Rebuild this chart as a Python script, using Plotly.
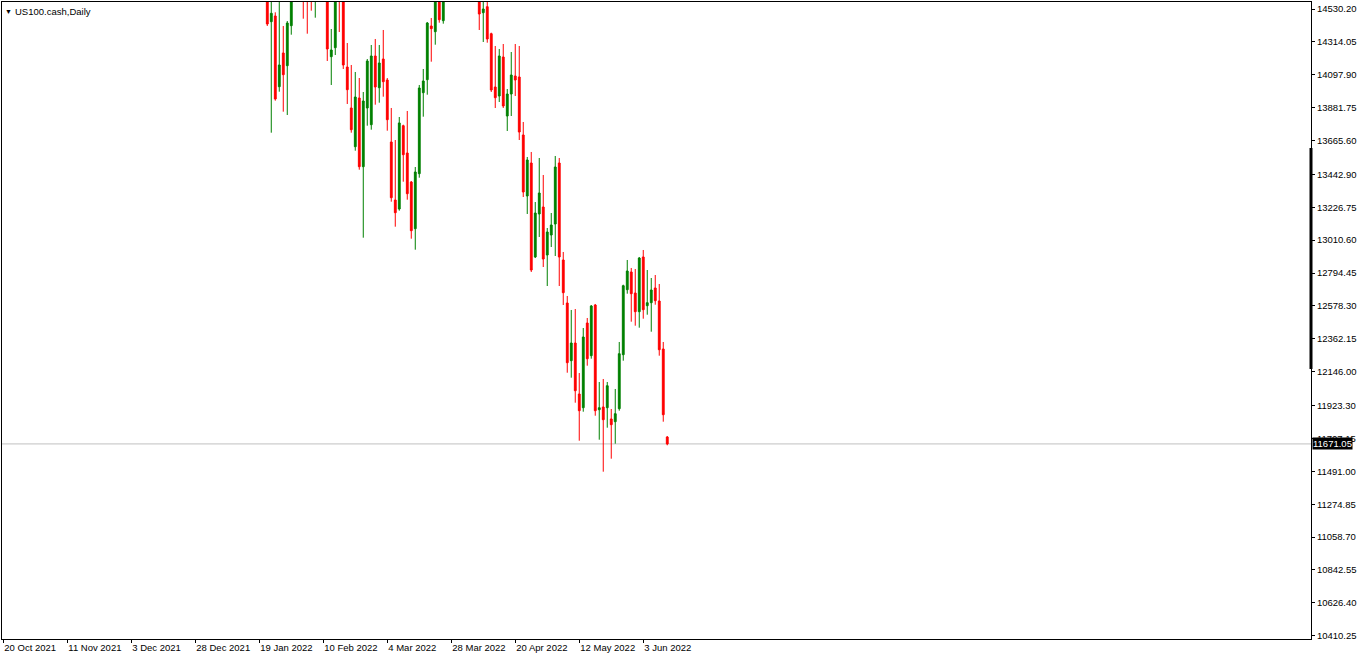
import pandas as pd
import plotly.graph_objects as go

# ---------------- data ----------------
symbol_title = "US100.cash,Daily"
first_day = "2021-10-20"
holidays = ["2021-12-24", "2022-04-15"]

dates = [
    "2022-01-21", "2022-01-24", "2022-01-25", "2022-01-26", "2022-01-27", "2022-01-28",
    "2022-01-31", "2022-02-03", "2022-02-04", "2022-02-07", "2022-02-08", "2022-02-11",
    "2022-02-14", "2022-02-15", "2022-02-16", "2022-02-17", "2022-02-18", "2022-02-21",
    "2022-02-22", "2022-02-23", "2022-02-24", "2022-02-25", "2022-02-28", "2022-03-01",
    "2022-03-02", "2022-03-03", "2022-03-04", "2022-03-07", "2022-03-08", "2022-03-09",
    "2022-03-10", "2022-03-11", "2022-03-14", "2022-03-15", "2022-03-16", "2022-03-17",
    "2022-03-18", "2022-03-21", "2022-03-22", "2022-03-23", "2022-03-24", "2022-04-06",
    "2022-04-07", "2022-04-08", "2022-04-11", "2022-04-12", "2022-04-13", "2022-04-14",
    "2022-04-18", "2022-04-19", "2022-04-20", "2022-04-21", "2022-04-22", "2022-04-25",
    "2022-04-26", "2022-04-27", "2022-04-28", "2022-04-29", "2022-05-02", "2022-05-03",
    "2022-05-04", "2022-05-05", "2022-05-06", "2022-05-09", "2022-05-10", "2022-05-11",
    "2022-05-12", "2022-05-13", "2022-05-16", "2022-05-17", "2022-05-18", "2022-05-19",
    "2022-05-20", "2022-05-23", "2022-05-24", "2022-05-25", "2022-05-26", "2022-05-27",
    "2022-05-30", "2022-05-31", "2022-06-01", "2022-06-02", "2022-06-03", "2022-06-06",
    "2022-06-07", "2022-06-08", "2022-06-09", "2022-06-10", "2022-06-13",
]
opens = [
    14700.0, 14446.7, 14484.2, 14019.4, 14241.0, 14157.5,
    14420.4, 14900.0, 14700.0, 14700.0, 14600.0, 14650.0,
    14216.7, 14275.8, 14640.0, 14600.0, 14148.9, 13879.4,
    13625.0, 13945.1, 13493.5, 13879.4, 13769.6, 14221.3,
    14012.8, 14201.5, 14063.5, 13655.9, 13274.6, 13215.4,
    13763.0, 13583.6, 13392.9, 13085.9, 13447.5, 13980.0,
    14065.4, 14418.5, 14381.0, 14640.0, 14453.3, 14640.0,
    14505.9, 14545.4, 14367.9, 14017.5, 13958.3, 14214.7,
    13826.8, 13971.4, 14089.8, 14083.2, 13701.9, 13300.9,
    13517.8, 12899.9, 13182.6, 13228.5, 12913.0, 13044.5,
    13116.8, 13517.8, 12880.2, 12597.5, 12218.1, 12334.5,
    11999.2, 11909.1, 12466.0, 12251.0, 12584.3, 11896.0,
    11913.8, 11909.1, 11834.9, 11817.2, 11902.6, 12257.6,
    12684.9, 12801.3, 12663.2, 12540.3, 12899.9, 12579.7,
    12599.4, 12696.1, 12610.6, 12295.1, 11716.5,
]
highs = [
    14760.0, 14610.0, 14508.5, 14600.0, 14418.5, 14451.3,
    14660.0, 14950.0, 14800.0, 14760.0, 14720.0, 14700.0,
    14398.8, 14620.0, 14680.0, 14620.0, 14306.7, 14162.1,
    14116.1, 14076.6, 13984.6, 14201.5, 14293.6, 14333.0,
    14293.6, 14392.2, 14076.6, 13879.4, 13669.0, 13820.2,
    13769.6, 13859.7, 13399.5, 13491.5, 14030.6, 14135.8,
    14444.8, 14471.1, 14640.0, 14660.0, 14680.0, 14680.0,
    14600.0, 14590.0, 14374.4, 14287.0, 14267.3, 14300.1,
    14004.3, 14247.5, 14300.1, 14287.0, 13787.4, 13557.3,
    13590.2, 13261.4, 13550.7, 13439.0, 13090.5, 13189.1,
    13563.9, 13550.7, 12932.8, 12643.5, 12551.5, 12558.0,
    12137.3, 12433.1, 12498.9, 12584.3, 12591.0, 12078.1,
    12097.9, 12078.1, 11900.6, 12032.2, 12341.1, 12717.8,
    12880.2, 12827.6, 12821.0, 12899.9, 12945.9, 12814.4,
    12761.8, 12781.5, 12722.4, 12341.1, 11723.0,
]
lows = [
    14418.5, 13717.0, 13927.4, 13986.6, 13855.1, 13833.4,
    14361.3, 14466.5, 14367.9, 14519.1, 14473.0, 14188.4,
    14030.6, 14227.8, 14379.0, 14135.8, 13905.7, 13717.0,
    13598.7, 13473.8, 13026.7, 13763.0, 13736.8, 13901.1,
    13914.2, 13953.7, 13730.2, 13263.4, 13099.1, 13204.2,
    13394.9, 13276.6, 13020.2, 12947.9, 13421.2, 13822.2,
    13966.8, 14183.8, 14295.5, 14440.2, 14433.6, 14392.2,
    14313.3, 14308.7, 13984.6, 13879.4, 13918.9, 13879.4,
    13728.2, 13826.8, 13958.3, 13669.0, 13294.3, 13182.6,
    12801.3, 12893.0, 13031.4, 12834.1, 12709.2, 12965.6,
    12906.5, 12709.2, 12584.3, 12139.2, 12106.4, 11942.0,
    11692.2, 11882.8, 12185.3, 12231.3, 11856.5, 11698.8,
    11488.5, 11777.7, 11573.9, 11672.5, 11889.4, 12218.1,
    12658.6, 12474.6, 12448.2, 12435.1, 12494.3, 12520.5,
    12408.8, 12586.3, 12251.0, 11817.2, 11662.1,
]
closes = [
    14431.6, 14502.0, 13938.6, 14162.1, 14098.3, 14438.2,
    14640.0, 14590.0, 14600.0, 14620.0, 14700.0, 14267.3,
    14260.7, 14600.0, 14590.0, 14162.1, 13999.7, 13736.8,
    13951.7, 13493.5, 13925.4, 14188.4, 14221.3, 14017.5,
    14175.3, 14052.3, 13802.5, 13289.7, 13191.1, 13781.0,
    13572.4, 13316.0, 13072.8, 13458.7, 14010.9, 14056.9,
    14438.2, 14400.7, 14620.0, 14459.9, 14650.0, 14497.4,
    14530.2, 14333.0, 13997.7, 13947.1, 14221.3, 13892.6,
    13971.4, 14096.3, 14063.5, 13721.6, 13327.2, 13537.6,
    12814.4, 13189.1, 13320.6, 12886.7, 13064.2, 13110.3,
    13491.5, 12899.9, 12665.2, 12205.0, 12334.5, 12020.8,
    11889.4, 12373.9, 12230.9, 12577.8, 11889.4, 11909.1,
    11830.3, 12053.7, 11797.4, 11869.8, 12264.2, 12711.2,
    12807.9, 12658.6, 12540.3, 12893.3, 12553.4, 12599.4,
    12682.9, 12612.6, 12290.4, 11863.1, 11671.05,
]
y_tick_labels = [
    "14530.20", "14314.05", "14097.90", "13881.75", "13665.60", "13442.90",
    "13226.75", "13010.60", "12794.45", "12578.30", "12362.15", "12146.00",
    "11923.30", "11707.15", "11491.00", "11274.85", "11058.70", "10842.55",
    "10626.40", "10410.25",
]
current_price = closes[-1]
label_every = 16

# ---------------- build ----------------
calendar = [d for d in pd.bdate_range(first_day, dates[-1])
            if d.strftime("%Y-%m-%d") not in holidays]
bar_index = {d.strftime("%Y-%m-%d"): i for i, d in enumerate(calendar)}
x = [bar_index[d] for d in dates]
x_tickvals = list(range(0, len(calendar), label_every))
x_ticktext = [f"{calendar[i].day} {calendar[i].strftime('%b %Y')}" for i in x_tickvals]

FONT = "Liberation Sans"
fig = go.Figure(go.Candlestick(
    x=x, open=opens, high=highs, low=lows, close=closes,
    increasing=dict(line=dict(color="#008000", width=1), fillcolor="#008000"),
    decreasing=dict(line=dict(color="#FF0000", width=1), fillcolor="#FF0000"),
    whiskerwidth=0, showlegend=False, hoverinfo="skip",
))

fig.update_layout(
    width=1362, height=660, autosize=False,
    margin=dict(l=2, r=51, t=2, b=21, pad=0),
    paper_bgcolor="white", plot_bgcolor="white",
    boxgap=0.35,
    font=dict(family=FONT, size=9.5, color="black"),
    xaxis=dict(
        range=[-0.325, 326.95], tickmode="array", tickvals=x_tickvals, ticktext=x_ticktext,
        ticks="outside", ticklen=3, tickcolor="black", tickwidth=1,
        ticklabelposition="outside right",
        showline=True, linecolor="black", linewidth=1, mirror=True,
        showgrid=False, zeroline=False, rangeslider=dict(visible=False),
        tickfont=dict(family=FONT, size=9.5, color="black"),
    ),
    yaxis=dict(
        side="right", range=[10388.6, 14576.2], tickmode="array",
        tickvals=[float(t) for t in y_tick_labels], ticktext=y_tick_labels,
        ticks="outside", ticklen=3, tickcolor="black", tickwidth=1,
        showline=True, linecolor="black", linewidth=1, mirror=True,
        showgrid=False, zeroline=False,
        tickfont=dict(family=FONT, size=9.5, color="black"),
    ),
    shapes=[
        dict(type="line", xref="paper", x0=0, x1=1, yref="y",
             y0=current_price, y1=current_price,
             line=dict(color="#C0C0C0", width=1), layer="below"),
        dict(type="line", xref="paper", x0=1, x1=1, yref="paper",
             y0=0.4239, y1=0.7708, line=dict(color="black", width=3)),
    ],
    annotations=[
        dict(text="▼", xref="paper", yref="paper", x=0, y=1, xanchor="left", yanchor="top",
             xshift=1, yshift=-4, showarrow=False, font=dict(size=7, color="black")),
        dict(text=symbol_title, xref="paper", yref="paper", x=0, y=1, xanchor="left",
             yanchor="top", xshift=11, yshift=-2, showarrow=False,
             font=dict(family=FONT, size=9.5, color="black")),
        dict(text=f"{current_price:.2f}", xref="paper", yref="y", x=1, y=current_price,
             xanchor="left", yanchor="middle", xshift=1, showarrow=False,
             bgcolor="black", borderpad=0,
             font=dict(family=FONT, size=9.5, color="white")),
    ],
)

fig.write_html("out.html", config={"displayModeBar": False},
               post_script="document.body.style.margin='0';")
